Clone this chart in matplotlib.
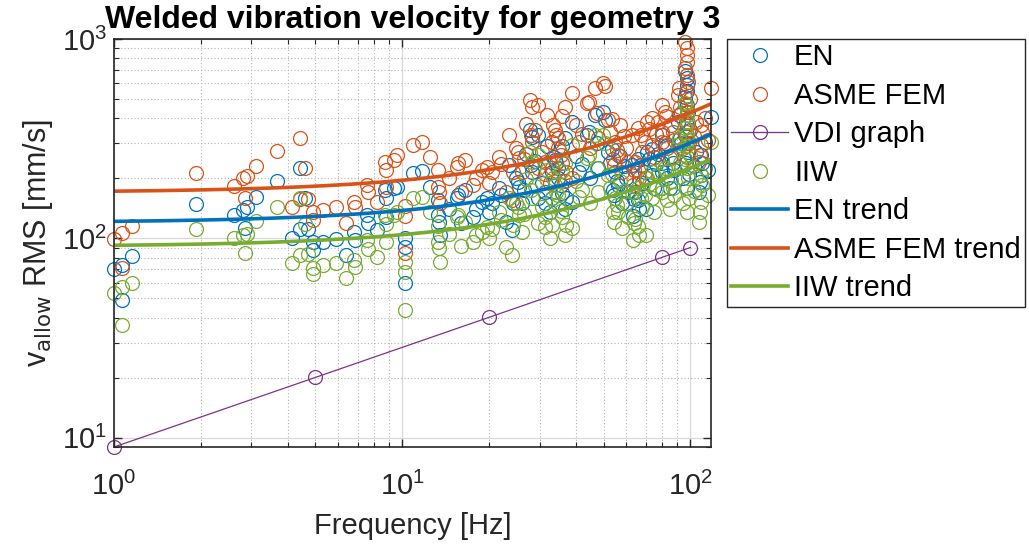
import numpy as np
import matplotlib
matplotlib.use('Agg')
import matplotlib.pyplot as plt
from matplotlib.ticker import LogLocator, NullFormatter

plt.rcParams['font.family'] = ['Liberation Sans', 'DejaVu Sans']

# natural frequencies [Hz] and allowed RMS velocities [mm/s] per standard
freq = [1.00, 1.07, 1.07, 1.15, 1.93, 2.61, 2.80, 2.85, 2.89, 3.11,
        3.68, 4.15, 4.42, 4.42, 4.72, 4.60, 4.91, 4.91, 5.32, 5.89,
        6.38, 6.81, 6.85, 7.56, 7.60, 8.18, 8.72, 8.80, 8.80, 9.37,
        9.60, 10.2, 10.2, 10.2, 10.9, 11.7, 12.5, 13.3, 13.3, 13.4,
        13.5, 15.5, 15.6, 16.5, 17.6, 18.9, 19.7, 20.5, 21.6, 22.9,
        23.4, 24.2, 24.0, 25.3, 25.4, 26.0, 27.8, 28.2, 28.0, 28.3,
        29.6, 29.6, 31.3, 31.3, 31.8, 33.4, 33.8, 34.2, 34.8, 33.2,
        34.8, 33.2, 36.0, 36.8, 36.8, 37.0, 38.9, 38.9, 42.0, 43.9,
        44.5, 46.8, 49.6, 50.5, 51.9, 54.0, 54.5, 54.9, 55.5, 56.0,
        58.0, 61.0, 62.9, 63.0, 64.0, 64.5, 65.8, 65.8, 66.5, 67.3,
        69.6, 70.0, 73.7, 73.7, 77.0, 79.5, 79.5, 81.6, 83.0, 84.9,
        90.6, 91.5, 95.9, 97.0, 97.2, 97.5, 96.0, 97.7, 98.0, 96.5,
        95.5, 97.0, 98.5, 96.8, 99.0, 97.5, 107, 108, 109, 110,
        109, 112, 118,
        14.5, 16.0, 18.0, 20.0, 22.0, 24.8, 26.5, 30.5, 32.5, 35.5,
        40.0, 45.0, 48.0, 52.5, 57.0, 60.0, 68.0, 72.0, 75.0, 80.0,
        86.0, 88.0, 93.0, 94.0, 100, 103, 105, 115,
        27.0, 29.0, 36.0, 41.0, 47.5, 53.5, 59.0, 71.0, 76.0, 82.5,
        87.0, 92.0]
en = [70, 74, 49, 82, 149, 131, 139, 113, 143, 161,
      194, 100, 225, 111, 111, 160, 96, 88, 96, 99,
      83, 108, 98, 131, 119, 110, 175, 160, 128, 179,
      181, 91, 60, 101, 213, 217, 181, 155, 131, 121,
      104, 160, 165, 175, 128, 153, 160, 150, 179, 121,
      233, 150, 110, 192, 181, 150, 349, 323, 233, 215,
      330, 160, 170, 150, 292, 256, 246, 238, 225, 215,
      200, 160, 169, 320, 140, 160, 383, 153, 235, 330,
      341, 415, 431, 392, 270, 175, 165, 215, 195, 185,
      150, 170, 233, 130, 157, 170, 250, 155, 140, 233,
      215, 140, 280, 208, 265, 330, 215, 300, 200, 180,
      383, 415, 690, 640, 590, 550, 510, 468, 430, 380,
      330, 300, 270, 240, 210, 180, 170, 192, 208, 240,
      262, 305, 405,
      140, 120, 140, 135, 165, 200, 175, 190, 135, 185,
      260, 200, 225, 240, 260, 200, 190, 250, 180, 240,
      260, 220, 300, 200, 350, 230, 270, 220,
      265, 245, 290, 215, 300, 280, 230, 270, 235, 290,
      240, 320]
asme = [99, 107, 71, 115, 213, 183, 201, 160, 205, 231,
        275, 143, 319, 157, 157, 225, 136, 124, 139, 143,
        120, 153, 144, 186, 170, 153, 241, 220, 182, 246,
        262, 129, 85, 145, 294, 305, 256, 220, 181, 171,
        150, 229, 240, 246, 186, 220, 228, 215, 256, 171,
        330, 215, 155, 272, 253, 215, 497, 457, 330, 305,
        468, 225, 241, 210, 415, 370, 349, 330, 319, 305,
        285, 225, 240, 457, 195, 215, 536, 201, 335, 480,
        485, 570, 600, 580, 392, 250, 233, 305, 278, 262,
        215, 241, 330, 185, 220, 241, 357, 220, 201, 330,
        305, 201, 402, 294, 383, 468, 305, 431, 285, 253,
        523, 570, 966, 900, 832, 770, 715, 660, 612, 540,
        470, 430, 380, 340, 300, 255, 241, 262, 294, 341,
        370, 402, 570,
        200, 170, 200, 190, 235, 285, 250, 270, 190, 262,
        370, 285, 320, 340, 370, 285, 270, 355, 255, 340,
        370, 310, 425, 285, 500, 325, 385, 310,
        375, 350, 410, 305, 425, 395, 325, 385, 335, 410,
        340, 455]
iiw = [53, 57, 37, 60, 112, 100, 104, 85, 105, 122,
       144, 75, 160, 83, 84, 118, 71, 66, 74, 75,
       63, 78, 72, 98, 89, 81, 131, 118, 96, 131,
       135, 68, 44, 76, 160, 161, 136, 116, 96, 90,
       76, 128, 131, 121, 96, 108, 114, 112, 136, 91,
       160, 117, 83, 143, 131, 108, 272, 241, 175, 160,
       262, 120, 128, 114, 220, 201, 186, 171, 165, 160,
       148, 117, 128, 240, 104, 117, 294, 113, 175, 253,
       262, 330, 330, 300, 208, 135, 121, 160, 147, 136,
       113, 128, 171, 98, 119, 125, 179, 115, 104, 160,
       165, 104, 215, 160, 208, 250, 171, 225, 155, 140,
       294, 319, 480, 446, 415, 383, 357, 330, 310, 290,
       250, 225, 200, 180, 160, 135, 121, 136, 153, 186,
       208, 225, 305,
       105, 92, 104, 100, 124, 150, 132, 143, 100, 138,
       195, 150, 170, 180, 195, 150, 143, 188, 135, 180,
       195, 165, 225, 150, 262, 172, 203, 165,
       198, 184, 218, 161, 225, 210, 172, 202, 176, 218,
       180, 240]

# VDI guideline curve
vdi_freq = [1, 5, 20, 80, 100]
vdi_vel = [9.0, 20.1, 40.2, 80.5, 90.0]

# linear trends v = a + b*f
trend_coef = {
    'EN': (120, 1.81),
    'ASME FEM': (170, 2.57),
    'IIW': (91, 1.345),
}

c_en = '#0072BD'
c_asme = '#D95319'
c_vdi = '#7E2F8E'
c_iiw = '#77AC30'

fig = plt.figure(figsize=(10.29, 5.44), dpi=100)
ax = fig.add_axes([0.1108, 0.1783, 0.5802, 0.7500])

ms = 10
ax.plot(freq, en, 'o', mfc='none', mec=c_en, ms=ms, mew=0.9, label='EN', clip_on=False)
ax.plot(freq, asme, 'o', mfc='none', mec=c_asme, ms=ms, mew=0.9, label='ASME FEM', clip_on=False)
ax.plot(vdi_freq, vdi_vel, '-o', color=c_vdi, mfc='none', ms=ms, mew=0.9, lw=0.9,
        label='VDI graph', clip_on=False)
ax.plot(freq, iiw, 'o', mfc='none', mec=c_iiw, ms=ms, mew=0.9, label='IIW', clip_on=False)

f_line = np.logspace(0, np.log10(118), 200)
for name, col in [('EN', c_en), ('ASME FEM', c_asme), ('IIW', c_iiw)]:
    a, b = trend_coef[name]
    ax.plot(f_line, a + b * f_line, '-', color=col, lw=2.6, label=name + ' trend')

ax.set_xscale('log')
ax.set_yscale('log')
ax.set_xlim(1, 118)
ax.set_ylim(9, 1000)

ax.xaxis.set_minor_locator(LogLocator(base=10, subs=np.arange(2, 10)))
ax.yaxis.set_minor_locator(LogLocator(base=10, subs=np.arange(2, 10)))
ax.xaxis.set_minor_formatter(NullFormatter())
ax.yaxis.set_minor_formatter(NullFormatter())

ax.grid(True, which='major', color='#d9d9d9', lw=0.9, ls='-')
ax.grid(True, which='minor', color='#b4b4b4', lw=0.8, ls=(0, (1, 2)))
ax.set_axisbelow(True)

for s in ax.spines.values():
    s.set_color('#262626')
    s.set_linewidth(1.2)
ax.tick_params(which='both', direction='in', top=True, right=True, colors='#262626',
               labelsize=21)
ax.tick_params(which='major', length=6, width=1)
ax.tick_params(which='minor', length=3.5, width=0.8)
ax.tick_params(axis='x', pad=18)
ax.tick_params(axis='y', pad=5)

ax.set_xlabel('Frequency [Hz]', fontsize=21, color='#262626', labelpad=8)
ax.set_ylabel(r'v$_{\mathrm{allow}}$ RMS [mm/s]', fontsize=22, color='#262626', labelpad=5)
ax.set_title('Welded vibration velocity for geometry 3', fontsize=23, fontweight='bold', pad=8)

fig.legend(loc='upper left', bbox_to_anchor=(727 / 1029, 1 - 39 / 544), fontsize=21,
           frameon=True, fancybox=False, edgecolor='#262626', framealpha=1,
           borderaxespad=0, handlelength=1.95, handletextpad=0.2, labelspacing=0.36,
           borderpad=0.15)

fig.savefig('out.png', dpi=100)
